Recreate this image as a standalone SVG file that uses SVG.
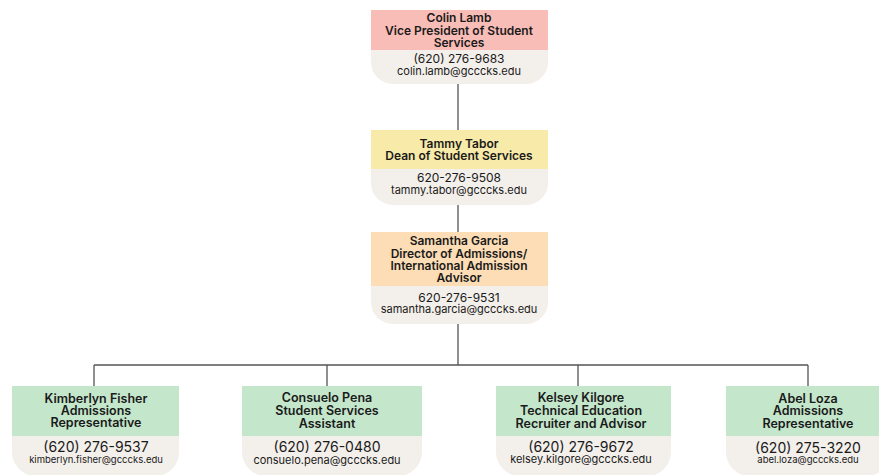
<svg xmlns="http://www.w3.org/2000/svg" width="879" height="475" viewBox="0 0 879 475">
<style>
.body{fill:#F3EFEA}
.pink{fill:#F9BDB7}
.yellow{fill:#F8EAA8}
.orange{fill:#FCDDB5}
.green{fill:#C4E6CB}
text{font-family:Inter,Roboto,"Liberation Sans",sans-serif;fill:#1a1a1a;text-anchor:middle}
.h{font-weight:600;font-size:12px}
.hb{font-weight:600;font-size:12.5px}
.t{font-size:12px}
.e{font-size:11px}
.pb{font-size:14px}
.eb{font-size:9.5px}
.conn{stroke:#555;stroke-width:1.3;fill:none}
</style>
<rect width="879" height="475" fill="#ffffff"/>
<g id="connectors">
<path class="conn" d="M458 84V130M458 205V232M458 324V365M94 365H808M94 365V386M327 365V386M578 365V386M808 365V386"/>
</g>
<g id="colin">
<path class="body" d="M371 10H548V62A22 22 0 0 1 526 84H393A22 22 0 0 1 371 62Z"/>
<rect class="pink" x="371" y="10" width="177" height="40"/>
<text class="h" x="459" y="22">Colin Lamb</text>
<text class="h" x="459" y="35">Vice President of Student</text>
<text class="h" x="459" y="47">Services</text>
<text class="t" x="459" y="63">(620) 276-9683</text>
<text class="e" x="459" y="75">colin.lamb@gcccks.edu</text>
</g>
<g id="tammy">
<path class="body" d="M371 130H548V183A22 22 0 0 1 526 205H393A22 22 0 0 1 371 183Z"/>
<rect class="yellow" x="371" y="130" width="177" height="39"/>
<text class="h" x="459" y="148">Tammy Tabor</text>
<text class="h" x="459" y="160">Dean of Student Services</text>
<text class="t" x="459" y="182">620-276-9508</text>
<text class="e" x="459" y="194">tammy.tabor@gcccks.edu</text>
</g>
<g id="samantha">
<path class="body" d="M371 232H548V302A22 22 0 0 1 526 324H393A22 22 0 0 1 371 302Z"/>
<rect class="orange" x="371" y="232" width="177" height="54"/>
<text class="h" x="459" y="245">Samantha Garcia</text>
<text class="h" x="459" y="258">Director of Admissions/</text>
<text class="h" x="459" y="270">International Admission</text>
<text class="h" x="459" y="282">Advisor</text>
<text class="t" x="459" y="302">620-276-9531</text>
<text class="e" x="459" y="313">samantha.garcia@gcccks.edu</text>
</g>
<g id="kimberlyn">
<path class="body" d="M12 386H179V452A24 24 0 0 1 155 476H36A24 24 0 0 1 12 452Z"/>
<rect class="green" x="12" y="386" width="167" height="50"/>
<text class="hb" x="96" y="403">Kimberlyn Fisher</text>
<text class="hb" x="96" y="415">Admissions</text>
<text class="hb" x="96" y="427">Representative</text>
<text class="pb" x="96" y="452">(620) 276-9537</text>
<text class="eb" x="96" y="463">kimberlyn.fisher@gcccks.edu</text>
</g>
<g id="consuelo">
<path class="body" d="M242 386H422V452A24 24 0 0 1 398 476H266A24 24 0 0 1 242 452Z"/>
<rect class="green" x="242" y="386" width="180" height="50"/>
<text class="hb" x="327" y="402">Consuelo Pena</text>
<text class="hb" x="327" y="415">Student Services</text>
<text class="hb" x="327" y="428">Assistant</text>
<text class="pb" x="327" y="452">(620) 276-0480</text>
<text class="e" x="327" y="464">consuelo.pena@gcccks.edu</text>
</g>
<g id="kelsey">
<path class="body" d="M496 386H671V452A24 24 0 0 1 647 476H520A24 24 0 0 1 496 452Z"/>
<rect class="green" x="496" y="386" width="175" height="50"/>
<text class="hb" x="581" y="402">Kelsey Kilgore</text>
<text class="hb" x="581" y="415">Technical Education</text>
<text class="hb" x="581" y="428">Recruiter and Advisor</text>
<text class="pb" x="581" y="452">(620) 276-9672</text>
<text class="e" x="581" y="463">kelsey.kilgore@gcccks.edu</text>
</g>
<g id="abel">
<path class="body" d="M726 386H890V452A24 24 0 0 1 866 476H750A24 24 0 0 1 726 452Z"/>
<rect class="green" x="726" y="386" width="164" height="50"/>
<text class="hb" x="808" y="403">Abel Loza</text>
<text class="hb" x="808" y="415">Admissions</text>
<text class="hb" x="808" y="428">Representative</text>
<text class="pb" x="808" y="453">(620) 275-3220</text>
<text class="eb" x="808" y="463">abel.loza@gcccks.edu</text>
</g>
</svg>
